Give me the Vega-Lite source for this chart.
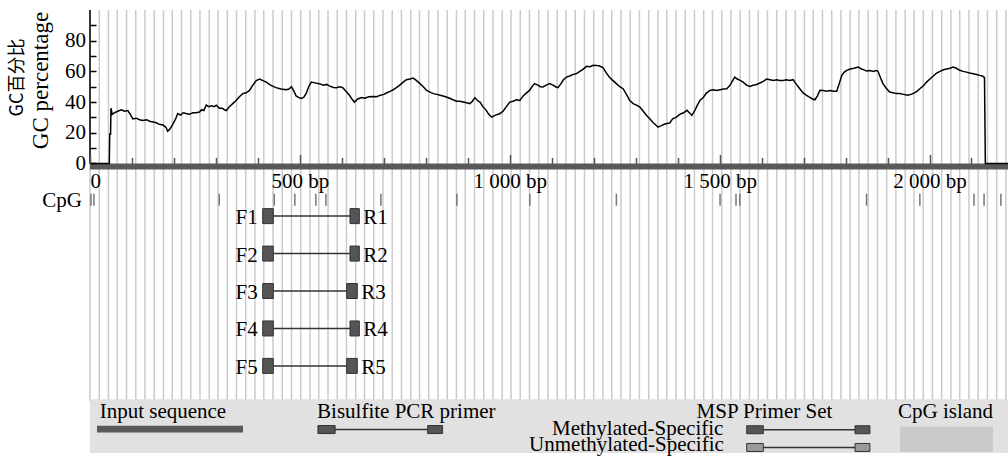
{
"$schema":"https://vega.github.io/schema/vega-lite/v6.json",
"width":918,"height":448,
"autosize":{"type":"none"},
"padding":{"left":90,"top":10,"right":0,"bottom":0},
"background":"white",
"config":{"view":{"stroke":null},"font":"Liberation Serif"},
"datasets":{
"gc":[{"bp":0,"gc":0},{"bp":46,"gc":0},{"bp":47,"gc":19},{"bp":49,"gc":19},{"bp":50,"gc":36},{"bp":53,"gc":32},{"bp":58,"gc":33},{"bp":66,"gc":34},{"bp":75,"gc":35},{"bp":82,"gc":34},{"bp":90,"gc":34.5},{"bp":96,"gc":32},{"bp":102,"gc":29},{"bp":110,"gc":29.5},{"bp":118,"gc":28.5},{"bp":126,"gc":28},{"bp":135,"gc":28.5},{"bp":142,"gc":27.5},{"bp":150,"gc":27},{"bp":158,"gc":26.5},{"bp":165,"gc":25.5},{"bp":174,"gc":25},{"bp":179,"gc":24},{"bp":182,"gc":23},{"bp":185,"gc":21},{"bp":189,"gc":22},{"bp":194,"gc":24},{"bp":198,"gc":26},{"bp":204,"gc":29},{"bp":209,"gc":32.5},{"bp":216,"gc":31.5},{"bp":222,"gc":33},{"bp":229,"gc":32.5},{"bp":237,"gc":32},{"bp":245,"gc":33},{"bp":253,"gc":33},{"bp":261,"gc":33.5},{"bp":266,"gc":35},{"bp":271,"gc":34.5},{"bp":277,"gc":38},{"bp":283,"gc":37},{"bp":290,"gc":37.5},{"bp":296,"gc":37},{"bp":301,"gc":38},{"bp":308,"gc":36},{"bp":315,"gc":36},{"bp":320,"gc":35},{"bp":325,"gc":34.5},{"bp":332,"gc":37},{"bp":340,"gc":39},{"bp":348,"gc":41},{"bp":356,"gc":43.5},{"bp":364,"gc":45.5},{"bp":372,"gc":46},{"bp":380,"gc":47.6},{"bp":388,"gc":51},{"bp":396,"gc":54},{"bp":404,"gc":55},{"bp":412,"gc":54},{"bp":420,"gc":53},{"bp":430,"gc":51},{"bp":443,"gc":49.4},{"bp":455,"gc":48.5},{"bp":467,"gc":48},{"bp":474,"gc":48.5},{"bp":480,"gc":50},{"bp":486,"gc":47},{"bp":491,"gc":44},{"bp":497,"gc":43},{"bp":503,"gc":42.3},{"bp":509,"gc":43},{"bp":515,"gc":45.6},{"bp":521,"gc":50},{"bp":527,"gc":53},{"bp":536,"gc":52.5},{"bp":546,"gc":52},{"bp":556,"gc":51},{"bp":564,"gc":51.5},{"bp":570,"gc":50.5},{"bp":580,"gc":49.5},{"bp":587,"gc":49.4},{"bp":595,"gc":50},{"bp":602,"gc":49.4},{"bp":610,"gc":47},{"bp":618,"gc":44.4},{"bp":624,"gc":42},{"bp":630,"gc":40},{"bp":638,"gc":42},{"bp":647,"gc":43},{"bp":655,"gc":42.5},{"bp":664,"gc":43.5},{"bp":674,"gc":43.7},{"bp":683,"gc":43.5},{"bp":692,"gc":44.5},{"bp":700,"gc":45},{"bp":706,"gc":45.9},{"bp":715,"gc":47},{"bp":722,"gc":48},{"bp":730,"gc":49.4},{"bp":738,"gc":51},{"bp":746,"gc":53},{"bp":754,"gc":54.6},{"bp":762,"gc":55},{"bp":770,"gc":55.6},{"bp":778,"gc":54},{"bp":786,"gc":52},{"bp":794,"gc":50},{"bp":802,"gc":47.6},{"bp":810,"gc":46.5},{"bp":818,"gc":45.5},{"bp":826,"gc":45},{"bp":834,"gc":44.5},{"bp":841,"gc":44},{"bp":849,"gc":43.3},{"bp":857,"gc":42.5},{"bp":865,"gc":41.5},{"bp":873,"gc":40.6},{"bp":881,"gc":40.5},{"bp":889,"gc":40},{"bp":897,"gc":39.5},{"bp":905,"gc":39},{"bp":911,"gc":40.5},{"bp":917,"gc":42.9},{"bp":923,"gc":41},{"bp":929,"gc":40},{"bp":936,"gc":37},{"bp":944,"gc":34.6},{"bp":950,"gc":32},{"bp":957,"gc":30.2},{"bp":966,"gc":31.5},{"bp":976,"gc":32.4},{"bp":984,"gc":34},{"bp":992,"gc":37},{"bp":1000,"gc":40},{"bp":1008,"gc":40.5},{"bp":1016,"gc":41.5},{"bp":1024,"gc":41},{"bp":1032,"gc":44},{"bp":1040,"gc":46},{"bp":1047,"gc":47.6},{"bp":1053,"gc":50},{"bp":1059,"gc":52},{"bp":1067,"gc":51},{"bp":1073,"gc":50},{"bp":1079,"gc":49.8},{"bp":1087,"gc":51},{"bp":1095,"gc":52},{"bp":1103,"gc":51},{"bp":1109,"gc":50},{"bp":1115,"gc":49.4},{"bp":1122,"gc":52},{"bp":1128,"gc":54.5},{"bp":1135,"gc":56.3},{"bp":1143,"gc":57},{"bp":1151,"gc":58},{"bp":1159,"gc":58.5},{"bp":1167,"gc":60},{"bp":1175,"gc":61.5},{"bp":1183,"gc":63.3},{"bp":1191,"gc":63},{"bp":1199,"gc":64},{"bp":1206,"gc":63.9},{"bp":1214,"gc":63.5},{"bp":1222,"gc":62.4},{"bp":1230,"gc":59},{"bp":1238,"gc":56},{"bp":1246,"gc":54},{"bp":1254,"gc":52},{"bp":1262,"gc":50},{"bp":1270,"gc":48.7},{"bp":1278,"gc":45},{"bp":1286,"gc":41},{"bp":1294,"gc":39},{"bp":1302,"gc":38},{"bp":1310,"gc":36.7},{"bp":1318,"gc":34},{"bp":1326,"gc":31.3},{"bp":1334,"gc":29},{"bp":1342,"gc":26.5},{"bp":1348,"gc":25},{"bp":1353,"gc":23.7},{"bp":1360,"gc":24.5},{"bp":1368,"gc":25.5},{"bp":1375,"gc":26},{"bp":1381,"gc":26.3},{"bp":1388,"gc":29},{"bp":1396,"gc":30},{"bp":1405,"gc":32},{"bp":1414,"gc":33},{"bp":1422,"gc":34.6},{"bp":1428,"gc":33},{"bp":1434,"gc":31.3},{"bp":1440,"gc":34},{"bp":1447,"gc":38},{"bp":1453,"gc":41},{"bp":1461,"gc":43},{"bp":1469,"gc":46},{"bp":1477,"gc":47.6},{"bp":1485,"gc":48},{"bp":1493,"gc":47.5},{"bp":1501,"gc":48},{"bp":1509,"gc":48.5},{"bp":1517,"gc":48.7},{"bp":1525,"gc":51},{"bp":1531,"gc":54},{"bp":1536,"gc":56.3},{"bp":1542,"gc":55},{"bp":1550,"gc":54},{"bp":1556,"gc":53},{"bp":1564,"gc":51},{"bp":1572,"gc":50.2},{"bp":1580,"gc":51},{"bp":1588,"gc":51.5},{"bp":1596,"gc":52.4},{"bp":1604,"gc":53.5},{"bp":1612,"gc":55},{"bp":1620,"gc":54.5},{"bp":1628,"gc":54},{"bp":1636,"gc":54.5},{"bp":1643,"gc":54},{"bp":1651,"gc":54},{"bp":1659,"gc":54.5},{"bp":1667,"gc":54},{"bp":1675,"gc":54.6},{"bp":1683,"gc":51.5},{"bp":1691,"gc":48.7},{"bp":1699,"gc":46},{"bp":1707,"gc":44.4},{"bp":1715,"gc":43},{"bp":1721,"gc":42},{"bp":1727,"gc":41.5},{"bp":1733,"gc":44},{"bp":1739,"gc":47.6},{"bp":1747,"gc":47.5},{"bp":1755,"gc":47},{"bp":1763,"gc":47.5},{"bp":1771,"gc":47},{"bp":1779,"gc":47.1},{"bp":1785,"gc":52},{"bp":1791,"gc":57.4},{"bp":1797,"gc":59.5},{"bp":1803,"gc":60.7},{"bp":1811,"gc":61.5},{"bp":1820,"gc":62},{"bp":1830,"gc":62.8},{"bp":1838,"gc":61.5},{"bp":1844,"gc":61},{"bp":1850,"gc":60.2},{"bp":1858,"gc":60.5},{"bp":1866,"gc":60},{"bp":1872,"gc":60.5},{"bp":1877,"gc":60.2},{"bp":1883,"gc":56},{"bp":1889,"gc":52},{"bp":1897,"gc":49},{"bp":1905,"gc":46.5},{"bp":1913,"gc":46},{"bp":1921,"gc":45.5},{"bp":1929,"gc":45.5},{"bp":1938,"gc":45},{"bp":1948,"gc":44.4},{"bp":1956,"gc":45},{"bp":1964,"gc":46},{"bp":1970,"gc":47},{"bp":1977,"gc":48.7},{"bp":1985,"gc":50.5},{"bp":1993,"gc":53},{"bp":2001,"gc":55},{"bp":2009,"gc":57},{"bp":2017,"gc":58.9},{"bp":2025,"gc":60},{"bp":2033,"gc":61},{"bp":2041,"gc":61.5},{"bp":2049,"gc":62},{"bp":2056,"gc":62.8},{"bp":2064,"gc":62},{"bp":2072,"gc":60.7},{"bp":2080,"gc":60},{"bp":2088,"gc":59.5},{"bp":2096,"gc":58.9},{"bp":2104,"gc":58.5},{"bp":2112,"gc":58},{"bp":2120,"gc":57.4},{"bp":2126,"gc":57},{"bp":2131,"gc":55.9},{"bp":2133,"gc":0},{"bp":2187,"gc":0}],
"stripes":[{"bp":0},{"bp":22},{"bp":44},{"bp":65},{"bp":87},{"bp":109},{"bp":131},{"bp":153},{"bp":175},{"bp":196},{"bp":218},{"bp":240},{"bp":262},{"bp":284},{"bp":305},{"bp":327},{"bp":349},{"bp":371},{"bp":393},{"bp":414},{"bp":436},{"bp":458},{"bp":480},{"bp":502},{"bp":524},{"bp":545},{"bp":567},{"bp":589},{"bp":611},{"bp":633},{"bp":654},{"bp":676},{"bp":698},{"bp":720},{"bp":742},{"bp":764},{"bp":785},{"bp":807},{"bp":829},{"bp":851},{"bp":873},{"bp":894},{"bp":916},{"bp":938},{"bp":960},{"bp":982},{"bp":1003},{"bp":1025},{"bp":1047},{"bp":1069},{"bp":1091},{"bp":1113},{"bp":1134},{"bp":1156},{"bp":1178},{"bp":1200},{"bp":1222},{"bp":1243},{"bp":1265},{"bp":1287},{"bp":1309},{"bp":1331},{"bp":1353},{"bp":1374},{"bp":1396},{"bp":1418},{"bp":1440},{"bp":1462},{"bp":1483},{"bp":1505},{"bp":1527},{"bp":1549},{"bp":1571},{"bp":1592},{"bp":1614},{"bp":1636},{"bp":1658},{"bp":1680},{"bp":1702},{"bp":1723},{"bp":1745},{"bp":1767},{"bp":1789},{"bp":1811},{"bp":1832},{"bp":1854},{"bp":1876},{"bp":1898},{"bp":1920},{"bp":1942},{"bp":1963},{"bp":1985},{"bp":2007},{"bp":2029},{"bp":2051},{"bp":2072},{"bp":2094},{"bp":2116},{"bp":2138},{"bp":2160},{"bp":2182}],
"cpg":[{"bp":2.4},{"bp":9.5},{"bp":308},{"bp":439},{"bp":488},{"bp":538},{"bp":562},{"bp":693},{"bp":874},{"bp":1048},{"bp":1254},{"bp":1501},{"bp":1539},{"bp":1548},{"bp":1850},{"bp":1977},{"bp":2106},{"bp":2130},{"bp":2170}],
"primers":[
{"set":1,"fl":"F1","rl":"R1","fs":411.4,"fe":436.7,"rs":619.4,"re":641.6},
{"set":2,"fl":"F2","rl":"R2","fs":411.4,"fe":436.7,"rs":619.4,"re":641.6},
{"set":3,"fl":"F3","rl":"R3","fs":411.4,"fe":436.7,"rs":611.5,"re":636.8},
{"set":4,"fl":"F4","rl":"R4","fs":411.4,"fe":436.7,"rs":619.4,"re":641.6},
{"set":5,"fl":"F5","rl":"R5","fs":411.4,"fe":436.7,"rs":611.5,"re":636.8}],
"legendIcons":[
{"kind":"bisulfite","lane":6.700,"f1":543,"f2":584,"r1":804.5,"r2":840},
{"kind":"methylated","lane":6.705,"f1":1564.5,"f2":1604,"r1":1822.5,"r2":1858},
{"kind":"unmethylated","lane":7.178,"f1":1564.5,"f2":1604,"r1":1822.5,"r2":1858}],
"legendHeaders":[
{"label":"Input sequence","bp":23,"lane":6.386},
{"label":"Bisulfite PCR primer","bp":541,"lane":6.386},
{"label":"MSP Primer Set","bp":1445,"lane":6.386},
{"label":"CpG island","bp":1925,"lane":6.386}],
"legendSub":[
{"label":"Methylated-Specific","bp":1509,"lane":6.838},
{"label":"Unmethylated-Specific","bp":1510,"lane":7.274}]
},
"resolve":{"scale":{"y":"independent"}},
"layer":[
{"layer":[
 {"data":{"name":"stripes"},"mark":{"type":"rule","color":"#cbcbcb","strokeWidth":1.5},
  "encoding":{"x":{"field":"bp","type":"quantitative","axis":{"title":null}},"y":{"datum":100},"y2":{"datum":-155}}},
 {"data":{"values":[{}]},"mark":{"type":"rect","color":"#595959"},
  "encoding":{"x":{"datum":0},"x2":{"datum":2187},"y":{"datum":0},"y2":{"datum":-4}}},
 {"data":{"values":[{}]},"mark":{"type":"rule","color":"black","strokeWidth":1.5},
  "encoding":{"x":{"datum":0},"y":{"datum":0},"y2":{"datum":100}}},
 {"data":{"name":"gc"},"mark":{"type":"line","color":"black","strokeWidth":1.5},
  "encoding":{
   "x":{"field":"bp","type":"quantitative","scale":{"domain":[0,2187],"nice":false,"zero":false},
    "axis":{"orient":"bottom","offset":-294.58,"zindex":1,"values":[0,100,200,300,400,500,600,700,800,900,1000,1100,1200,1300,1400,1500,1600,1700,1800,1900,2000,2100],
     "domain":false,"grid":false,"tickColor":"#555555","tickWidth":1.5,
     "tickSize":{"condition":{"test":"datum.value % 500 === 0","value":-9},"value":-6},
     "labelExpr":"datum.value === 0 ? '0' : (datum.value % 500 === 0 ? replace(format(datum.value, ','), ',', ' ') + ' bp' : '')",
     "labelFont":"Liberation Serif","labelFontSize":21,"labelColor":"black","labelPadding":16,"labelFlush":true,"labelOverlap":false,"title":null}},
   "y":{"field":"gc","type":"quantitative","scale":{"domain":[-192,100],"nice":false,"zero":false},
    "axis":{"values":[0,10,20,30,40,50,60,70,80,90],"zindex":1,"domain":false,"grid":false,"tickSize":-6,"tickColor":"black","tickWidth":1.5,
     "labelExpr":"datum.value % 20 === 0 ? datum.label : ''","labelFont":"Liberation Serif","labelFontSize":21,"labelColor":"black","labelPadding":10.5,"labelOverlap":false,
     "title":"GC percentage","titleFont":"Liberation Serif","titleFontSize":23,"titleFontWeight":"normal","titleColor":"black",
     "titleX":-43,"titleY":70,"titleAngle":270,"titleAlign":"center","titleBaseline":"alphabetic"}}}},
 {"data":{"values":[{}]},"mark":{"type":"text","text":"GC百分比","angle":270,"align":"center","baseline":"alphabetic","dy":-67,"font":"Noto Sans CJK SC","fontSize":18,"color":"black"},
  "encoding":{"x":{"datum":0},"y":{"datum":56}}}
]},
{"layer":[
 {"data":{"values":[{}]},"mark":{"type":"rect","color":"#e1e1e1"},
  "encoding":{"x":{"datum":0},"x2":{"datum":2187},"y":{"datum":5.89,"axis":null,"scale":{"domain":[-4.371,7.326],"reverse":true,"nice":false,"zero":false}},"y2":{"datum":7.326}}},
 {"data":{"values":[{}]},"mark":{"type":"rect","color":"#c9c9c9"},
  "encoding":{"x":{"datum":1930},"x2":{"datum":2151},"y":{"datum":6.62,"axis":null},"y2":{"datum":7.29}}},
 {"data":{"values":[{}]},"mark":{"type":"rect","color":"#595959"},
  "encoding":{"x":{"datum":16.7},"x2":{"datum":364.5},"y":{"datum":6.595,"axis":null},"y2":{"datum":6.778}}},
 {"data":{"name":"legendIcons"},"mark":{"type":"rule","color":"#333333","strokeWidth":1.5},
  "encoding":{"x":{"field":"f2","type":"quantitative","axis":{"title":null}},"x2":{"field":"r1"},"y":{"field":"lane","type":"quantitative","axis":null}}},
 {"data":{"name":"legendIcons"},"mark":{"type":"bar","orient":"horizontal","height":8,"stroke":"#333333","strokeWidth":1},
  "encoding":{"x":{"field":"f1","type":"quantitative","axis":{"title":null}},"x2":{"field":"f2"},"y":{"field":"lane","type":"quantitative","axis":null},
   "fill":{"field":"kind","type":"nominal","scale":{"domain":["bisulfite","methylated","unmethylated"],"range":["#555555","#555555","#9a9a9a"]},"legend":null}}},
 {"data":{"name":"legendIcons"},"mark":{"type":"bar","orient":"horizontal","height":8,"stroke":"#333333","strokeWidth":1},
  "encoding":{"x":{"field":"r1","type":"quantitative","axis":{"title":null}},"x2":{"field":"r2"},"y":{"field":"lane","type":"quantitative","axis":null},
   "fill":{"field":"kind","type":"nominal","scale":{"domain":["bisulfite","methylated","unmethylated"],"range":["#555555","#555555","#9a9a9a"]},"legend":null}}},
 {"data":{"name":"legendHeaders"},"mark":{"type":"text","align":"left","baseline":"alphabetic","font":"Liberation Serif","fontSize":21,"color":"black"},
  "encoding":{"x":{"field":"bp","type":"quantitative","axis":{"title":null}},"y":{"field":"lane","type":"quantitative","axis":null},"text":{"field":"label"}}},
 {"data":{"name":"legendSub"},"mark":{"type":"text","align":"right","baseline":"alphabetic","font":"Liberation Serif","fontSize":21,"color":"black"},
  "encoding":{"x":{"field":"bp","type":"quantitative","axis":{"title":null}},"y":{"field":"lane","type":"quantitative","axis":null},"text":{"field":"label"}}},
 {"data":{"name":"cpg"},"mark":{"type":"rule","color":"#777777","strokeWidth":1.5},
  "encoding":{"x":{"field":"bp","type":"quantitative","axis":{"title":null}},"y":{"datum":0.40,"axis":null},"y2":{"datum":0.721}}},
 {"data":{"values":[{}]},"mark":{"type":"text","text":"CpG","align":"right","baseline":"alphabetic","dx":-8,"font":"Liberation Serif","fontSize":21,"color":"black"},
  "encoding":{"x":{"datum":0},"y":{"datum":0.747,"axis":null}}},
 {"data":{"name":"primers"},"mark":{"type":"rule","color":"#333333","strokeWidth":1.5},
  "encoding":{"x":{"field":"fe","type":"quantitative","axis":{"title":null}},"x2":{"field":"rs"},"y":{"field":"set","type":"quantitative","axis":null}}},
 {"data":{"name":"primers"},"mark":{"type":"bar","orient":"horizontal","height":15,"fill":"#555555","stroke":"#333333","strokeWidth":1},
  "encoding":{"x":{"field":"fs","type":"quantitative","axis":{"title":null}},"x2":{"field":"fe"},"y":{"field":"set","type":"quantitative","axis":null}}},
 {"data":{"name":"primers"},"mark":{"type":"bar","orient":"horizontal","height":15,"fill":"#555555","stroke":"#333333","strokeWidth":1},
  "encoding":{"x":{"field":"rs","type":"quantitative","axis":{"title":null}},"x2":{"field":"re"},"y":{"field":"set","type":"quantitative","axis":null}}},
 {"data":{"name":"primers"},"mark":{"type":"text","align":"right","baseline":"middle","dx":-5,"dy":2,"font":"Liberation Serif","fontSize":21,"color":"black"},
  "encoding":{"x":{"field":"fs","type":"quantitative","axis":{"title":null}},"y":{"field":"set","type":"quantitative","axis":null},"text":{"field":"fl"}}},
 {"data":{"name":"primers"},"mark":{"type":"text","align":"left","baseline":"middle","dx":4,"dy":2,"font":"Liberation Serif","fontSize":21,"color":"black"},
  "encoding":{"x":{"field":"re","type":"quantitative","axis":{"title":null}},"y":{"field":"set","type":"quantitative","axis":null},"text":{"field":"rl"}}}
]}
]
}
